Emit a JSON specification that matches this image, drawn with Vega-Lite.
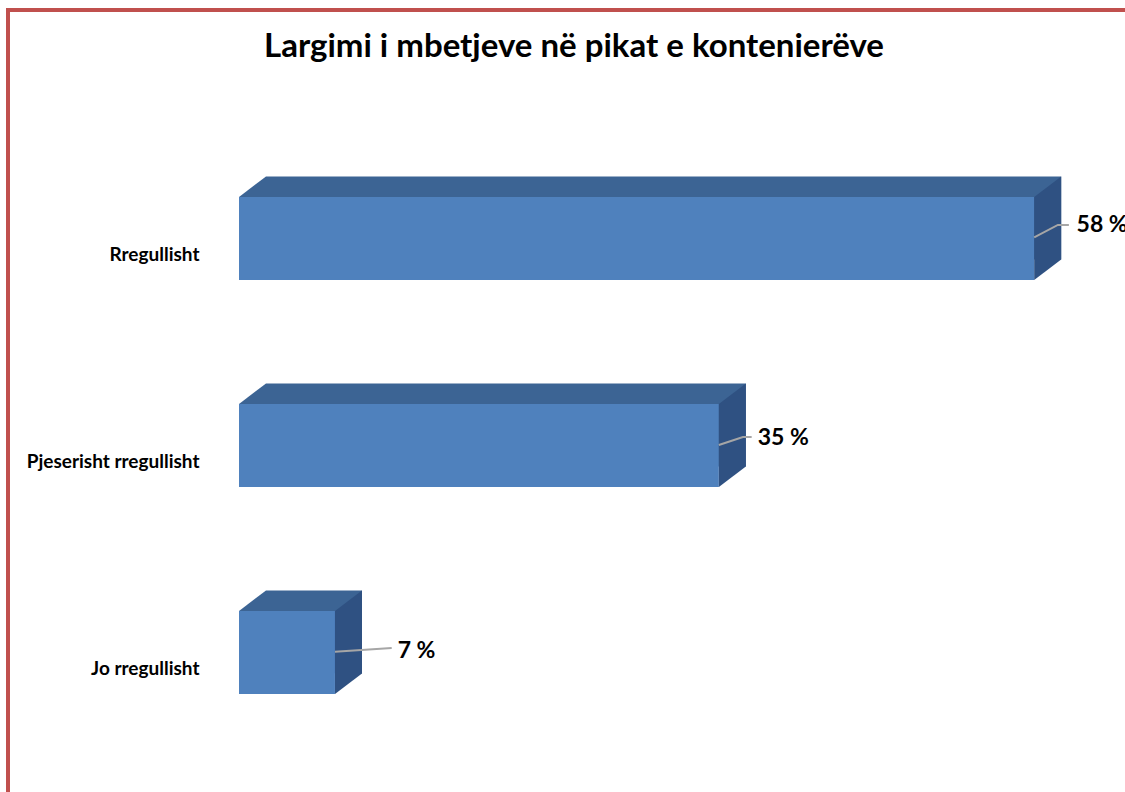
{
  "$schema": "https://vega.github.io/schema/vega-lite/v6.json",
  "width": 1117,
  "height": 782,
  "autosize": {"type": "none"},
  "padding": {"left": 8, "top": 10, "right": 0, "bottom": 0},
  "background": "white",
  "config": {
    "view": {"stroke": "#C0504D", "strokeWidth": 4, "strokeDash": [1117, 1899, 782], "fill": "white"}
  },
  "title": {
    "text": "Largimi i mbetjeve në pikat e kontenierëve",
    "font": "Lato",
    "fontSize": 33,
    "fontWeight": "bold",
    "color": "#000000",
    "anchor": "middle",
    "frame": "group",
    "offset": -80,
    "baseline": "alphabetic",
    "dx": 7.5
  },
  "data": {
    "values": [
      {"kategoria": "Rregullisht", "vlera": 58, "etiketa": "58 %"},
      {"kategoria": "Pjeserisht rregullisht", "vlera": 35, "etiketa": "35 %"},
      {"kategoria": "Jo rregullisht", "vlera": 7, "etiketa": "7 %"}
    ]
  },
  "encoding": {
    "y": {
      "field": "kategoria",
      "type": "nominal",
      "sort": null,
      "scale": {"paddingInner": 0.599, "paddingOuter": 0.6884, "align": 0.656},
      "axis": {
        "title": null,
        "ticks": false,
        "domain": false,
        "grid": false,
        "labelAlign": "right",
        "labelBaseline": "middle",
        "labelPadding": -191,
        "labelOffset": 17,
        "labelFont": "Lato",
        "labelFontSize": 19,
        "labelFontWeight": "bold",
        "labelColor": "#000000",
        "labelOverlap": false,
        "labelLimit": 0
      }
    },
    "x": {
      "field": "vlera",
      "type": "quantitative",
      "scale": {"domain": [-16.849, 64.624], "nice": false, "zero": false},
      "axis": null
    }
  },
  "layer": [
    {
      "mark": {"type": "bar", "fill": "#3C6494", "xOffset": 27, "x2Offset": 27, "yOffset": -20.5, "y2Offset": -20.5},
      "encoding": {"x2": {"datum": 0}}
    },
    {
      "mark": {"type": "bar", "fill": "#4F81BD"},
      "encoding": {"x2": {"datum": 0}}
    },
    {
      "mark": {"type": "point", "shape": "M0,-41.5L27,-62L27,-41.5Z", "size": 4, "filled": true, "fill": "#3C6494", "strokeWidth": 0, "opacity": 1},
      "encoding": {"x": {"datum": 0}}
    },
    {
      "mark": {"type": "point", "shape": "M0,-41.5L27,-62L27,21L0,41.5Z", "size": 4, "filled": true, "fill": "#2F5182", "strokeWidth": 0, "opacity": 1},
      "encoding": {}
    },
    {
      "mark": {"type": "point", "size": 4, "filled": false, "stroke": "#A6A6A6", "strokeWidth": 2, "opacity": 1, "fillOpacity": 0},
      "encoding": {
        "shape": {
          "field": "kategoria",
          "type": "nominal",
          "scale": {
            "domain": ["Rregullisht", "Pjeserisht rregullisht", "Jo rregullisht"],
            "range": ["M0,-1L23.7,-13.5L34.7,-13.5", "M0,-0.5L24.1,-8.5L32.8,-8.5", "M0,-0.8L56.7,-4.5"]
          },
          "legend": null
        }
      }
    },
    {
      "transform": [{"filter": "datum.kategoria === 'Rregullisht'"}],
      "mark": {"type": "text", "align": "left", "baseline": "middle", "dx": 42.4, "dy": -13, "font": "Lato", "fontSize": 23, "fontWeight": "bold", "color": "#000000"},
      "encoding": {"text": {"field": "etiketa"}}
    },
    {
      "transform": [{"filter": "datum.kategoria === 'Pjeserisht rregullisht'"}],
      "mark": {"type": "text", "align": "left", "baseline": "middle", "dx": 38.8, "dy": -7.2, "font": "Lato", "fontSize": 23, "fontWeight": "bold", "color": "#000000"},
      "encoding": {"text": {"field": "etiketa"}}
    },
    {
      "transform": [{"filter": "datum.kategoria === 'Jo rregullisht'"}],
      "mark": {"type": "text", "align": "left", "baseline": "middle", "dx": 62.7, "dy": -1.3, "font": "Lato", "fontSize": 23, "fontWeight": "bold", "color": "#000000"},
      "encoding": {"text": {"field": "etiketa"}}
    }
  ]
}
